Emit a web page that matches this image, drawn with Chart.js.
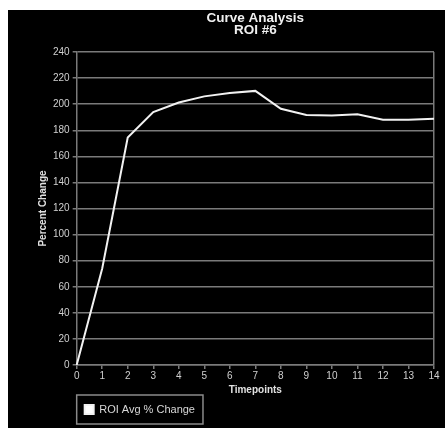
<!DOCTYPE html>
<html>
<head>
<meta charset="utf-8">
<script src="https://cdn.jsdelivr.net/npm/chart.js@4/dist/chart.umd.min.js"></script>
<style>
  html, body { margin: 0; padding: 0; background: #fff; }
  body { padding: 10px 0 0 8px; }
  #wrap { width: 437px; height: 418px; background: #000; }
</style>
</head>
<body>
<div id="wrap"><canvas id="myChart" width="437" height="418"></canvas></div>
<script>
const timepoints = ['0','1','2','3','4','5','6','7','8','9','10','11','12','13','14'];
const roiAvgChange = [0, 74, 174.5, 194, 201.3, 206, 208.5, 210.2, 196.5, 191.7, 191.4, 192.3, 188, 188, 188.8];
const titleLines = ['Curve Analysis', 'ROI #6'];

const FONT = '"Liberation Sans", Arial, sans-serif';
const GRID = '#7a7a7a';

// borde alrededor de la leyenda
const legendBorder = {
    id: 'legendBorder',
    afterDraw(chart) {
        const lg = chart.legend;
        if (!lg || !lg.legendHitBoxes.length) return;
        const hb = lg.legendHitBoxes[0];
        const ctx = chart.ctx;
        ctx.save();
        ctx.strokeStyle = '#8a8a8a';
        ctx.lineWidth = 1.5;
        ctx.strokeRect(hb.left - 8, hb.top - 9, hb.width + 16, hb.height + 18);
        ctx.restore();
    }
};

const canvas = document.getElementById('myChart');
new Chart(canvas.getContext('2d'), {
    type: 'line',
    data: {
        labels: timepoints,
        datasets: [{
            label: 'ROI Avg % Change',
            data: roiAvgChange,
            borderColor: '#f2f2f2',
            backgroundColor: '#ffffff',
            borderWidth: 2,
            pointRadius: 0,
            tension: 0,
            fill: false
        }]
    },
    options: {
        responsive: false,
        animation: false,
        layout: { padding: { left: 29, right: 11, top: 2, bottom: 3 } },
        scales: {
            x: {
                offset: false,
                grid: {
                    color: ctx => ctx.index === timepoints.length - 1 ? GRID : 'rgba(0,0,0,0)',
                    tickColor: GRID,
                    tickLength: 4,
                    lineWidth: 1.5
                },
                border: { color: GRID, width: 1.5 },
                ticks: { color: '#d0d0d0', font: { family: FONT, size: 10 }, padding: 1, maxRotation: 0 },
                title: { display: true, text: 'Timepoints', color: '#e0e0e0', font: { family: FONT, size: 10, weight: 'bold' }, padding: { top: 1, bottom: 0 } }
            },
            y: {
                min: 0,
                max: 240,
                ticks: { stepSize: 20, color: '#d0d0d0', font: { family: FONT, size: 10 }, padding: 3 },
                grid: { color: GRID, tickColor: GRID, tickLength: 4, lineWidth: 1.5 },
                border: { color: GRID, width: 1.5 },
                title: { display: true, text: 'Percent Change', color: '#e0e0e0', font: { family: FONT, size: 10, weight: 'bold' }, padding: { top: 0, bottom: 1 } }
            }
        },
        plugins: {
            title: {
                display: true,
                text: titleLines,
                color: '#f0f0f0',
                fullSize: false,
                font: { family: FONT, size: 13.5, weight: 'bold', lineHeight: 0.89 },
                padding: { top: 0, bottom: 16 }
            },
            legend: {
                position: 'bottom',
                align: 'start',
                fullSize: false,
                labels: {
                    color: '#d8d8d8',
                    font: { family: FONT, size: 11 },
                    boxWidth: 9,
                    boxHeight: 9,
                    padding: 8
                }
            },
            tooltip: { enabled: false }
        }
    },
    plugins: [legendBorder]
});
</script>
</body>
</html>
